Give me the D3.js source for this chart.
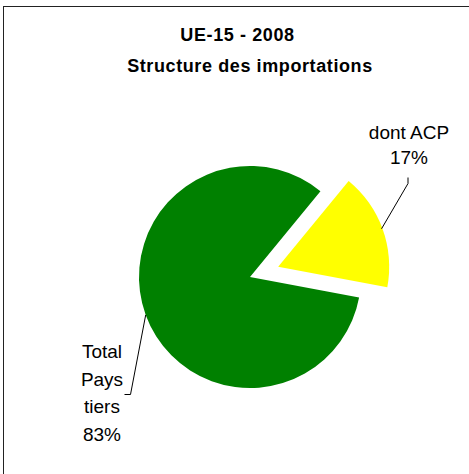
<!DOCTYPE html>
<html>
<head>
<meta charset="utf-8">
<script src="https://cdn.jsdelivr.net/npm/d3@7"></script>
<style>
  html, body { margin: 0; padding: 0; background: #fff; }
  svg { display: block; }
  text { font-family: "Liberation Sans", Arial, sans-serif; fill: #000; }
</style>
</head>
<body>
<svg id="chart" width="469" height="474"></svg>
<script>
const categories = ["dont ACP", "Total Pays tiers"];
const values = [17, 83];
const labelLines = [["dont ACP", "17%"], ["Total", "Pays", "tiers", "83%"]];
const titleLines = ["UE-15 - 2008", "Structure des importations"];
const colors = ["#FFFF00", "#008000"];

const svg = d3.select("#chart");
const W = 469, H = 474;

// frame
svg.append("rect")
  .attr("x", 3.5).attr("y", 6.5)
  .attr("width", W + 10).attr("height", H + 10)
  .attr("fill", "#fff").attr("stroke", "#222").attr("stroke-width", 1);

// title
const titleX = [237.5, 250];
const titleY = [40.5, 72];
titleLines.forEach((t, i) => {
  svg.append("text")
    .attr("x", titleX[i]).attr("y", titleY[i])
    .attr("text-anchor", "middle")
    .attr("font-size", 18).attr("font-weight", "bold")
    .attr("letter-spacing", "0.6px")
    .text(t);
});

// pie
const cx = 250, cy = 277, R = 111, explode = 30;
const start = 39.4 * Math.PI / 180;
const pie = d3.pie().sort(null).value(d => d)
  .startAngle(start).endAngle(start + 2 * Math.PI);
const arcs = pie(values);
const arc = d3.arc().innerRadius(0).outerRadius(R);

const g = svg.append("g").attr("transform", `translate(${cx},${cy})`);
arcs.forEach((a, i) => {
  const mid = (a.startAngle + a.endAngle) / 2;
  const off = i === 0 ? explode : 0;
  const dx = Math.sin(mid) * off, dy = -Math.cos(mid) * off;
  g.append("path")
    .attr("d", arc(a))
    .attr("transform", `translate(${dx},${dy})`)
    .attr("fill", colors[i]);
});

// leader lines and labels
function edgePoint(a, i) {
  const mid = (a.startAngle + a.endAngle) / 2;
  const off = i === 0 ? explode : 0;
  const r = R + off;
  return [cx + Math.sin(mid) * r - (i === 0 ? Math.sin(mid) * 1 : 0),
          cy - Math.cos(mid) * r];
}

// right label (ACP)
{
  const p = edgePoint(arcs[0], 0);
  svg.append("path")
    .attr("d", `M${p[0]},${p[1]} L408,183.5 L408,177.5`)
    .attr("fill", "none").attr("stroke", "#000").attr("stroke-width", 1);
  const lx = 409, ly = [139, 164];
  labelLines[0].forEach((t, k) => {
    svg.append("text").attr("x", lx).attr("y", ly[k])
      .attr("text-anchor", "middle").attr("font-size", 19).text(t);
  });
}
// left label (Pays tiers)
{
  const p = edgePoint(arcs[1], 1);
  svg.append("path")
    .attr("d", `M${p[0]},${p[1]} L130.5,394.5 L124.5,394.5`)
    .attr("fill", "none").attr("stroke", "#000").attr("stroke-width", 1);
  const lx = 102, ly = [358, 385.5, 413, 441];
  labelLines[1].forEach((t, k) => {
    svg.append("text").attr("x", lx).attr("y", ly[k])
      .attr("text-anchor", "middle").attr("font-size", 19).text(t);
  });
}
</script>
</body>
</html>
